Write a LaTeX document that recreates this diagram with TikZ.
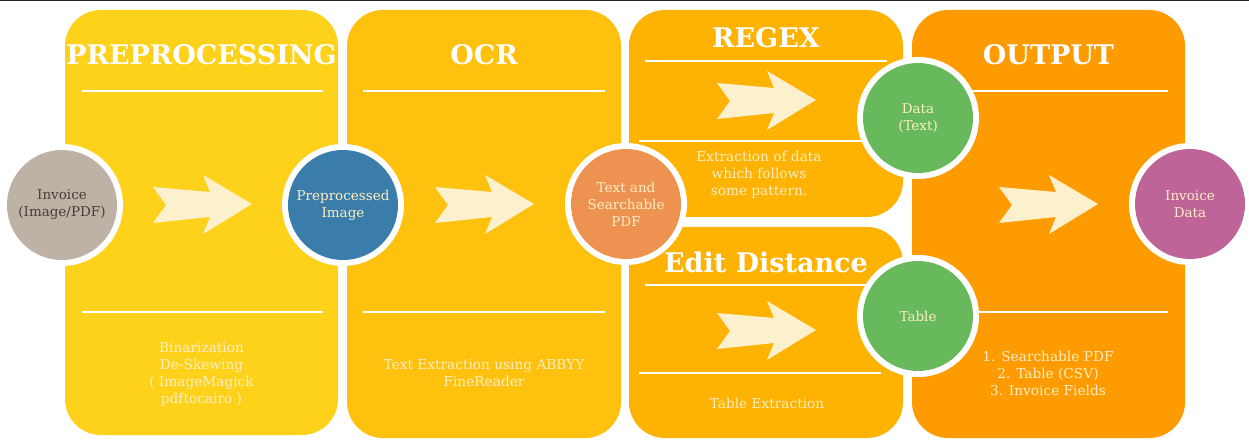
\documentclass[tikz,border=0pt]{standalone}
\usepackage{fontspec}
\setmainfont{DejaVu Serif}
\definecolor{pA}{RGB}{254,210,26}
\definecolor{pB}{RGB}{254,193,14}
\definecolor{pC}{RGB}{254,178,2}
\definecolor{pD}{RGB}{254,155,0}
\definecolor{cGray}{RGB}{190,177,165}
\definecolor{cBlue}{RGB}{58,125,170}
\definecolor{cOrange}{RGB}{238,146,82}
\definecolor{cGreen}{RGB}{104,185,92}
\definecolor{cPurple}{RGB}{190,100,152}
\definecolor{arrowcream}{RGB}{253,240,205}
\definecolor{txtcream}{RGB}{253,238,195}
\definecolor{darktxt}{RGB}{70,62,55}
\definecolor{topline}{RGB}{34,34,34}
\tikzset{
  panel/.style={fill=#1, draw=none, rounded corners=36pt},
  sepline/.style={draw=white, line width=2pt},
  ring/.style={circle, fill=white, minimum size=122pt, inner sep=0pt},
  bubble/.style={circle, fill=#1, minimum size=110pt, inner sep=0pt, align=center,
     text=txtcream, font=\fontsize{13.5}{17}\selectfont},
  title/.style={text=white, font=\bfseries\fontsize{27}{30}\selectfont, anchor=base, inner sep=0pt},
  body/.style={text=txtcream, align=center, font=\fontsize{13.7}{17}\selectfont, inner sep=0pt},
  chev/.pic={\fill[arrowcream] (-99,-17) -- (-86,1) -- (-99,19) -- (-42,13) -- (-49,30) -- (0,0) -- (-49,-29) -- (-42,-12) -- cycle;}
}
\begin{document}
\begin{tikzpicture}[x=1pt,y=-1pt]
\useasboundingbox (0,0) rectangle (1249,446);
\fill[white] (0,0) rectangle (1249,446);
\fill[topline] (0,0) rectangle (1249,1.5);
% panels
\fill[panel=pA] (65,10) rectangle (338,435);
\fill[panel=pB] (347,10) rectangle (621,438);
\fill[panel=pC] (629,10) rectangle (903,217);
\fill[panel=pC] (629,227) rectangle (903,438);
\fill[panel=pD] (912,10) rectangle (1185,438);
% separator lines
\draw[sepline] (82,91) -- (323,91);
\draw[sepline] (82,312) -- (323,312);
\draw[sepline] (363,91) -- (605,91);
\draw[sepline] (363,312) -- (605,312);
\draw[sepline] (645,61) -- (887,61);
\draw[sepline] (639,141) -- (881,141);
\draw[sepline] (645,285) -- (887,285);
\draw[sepline] (639,373) -- (881,373);
\draw[sepline] (930,91) -- (1168,91);
\draw[sepline] (930,312) -- (1168,312);
% titles
\node[title] (tpre) at (201.5,65) {PREPROCESSING};
\node[title] (tocr) at (484,65) {OCR};
\node[title] (treg) at (766,48) {REGEX};
\node[title] (tedit) at (766,272) {Edit Distance};
\node[title] (tout) at (1048.5,65) {OUTPUT};
% arrows
\pic at (252,204) {chev};
\pic at (534,204) {chev};
\pic at (816,100) {chev};
\pic at (816,330) {chev};
\pic at (1098,204) {chev};
% body texts
\node[body] (bpre) at (201.5,374) {Binarization\\De-Skewing\\( ImageMagick\\pdftocairo )};
\node[body] (bocr) at (484,373.5) {Text Extraction using ABBYY\\FineReader};
\node[body] (breg) at (759,175) {Extraction of data\\which follows\\some pattern.};
\node[body] (bedit) at (767,403) {Table Extraction};
\node[body] (bout) at (1048,373) {1. Searchable PDF\\2. Table (CSV)\\3. Invoice Fields};
% circles
\node[ring] (rinv) at (62,205) {};
\node[bubble=cGray, text=darktxt] (inv) at (62,205) {Invoice\\(Image/PDF)};
\node[ring] (rpre) at (343,205) {};
\node[bubble=cBlue] (pre) at (343,205) {Preprocessed\\Image};
\node[ring] (rtsp) at (626,204) {};
\node[bubble=cOrange] (tsp) at (626,204) {Text and\\Searchable\\PDF};
\node[ring] (rdat) at (918,118) {};
\node[bubble=cGreen] (dat) at (918,118) {Data\\(Text)};
\node[ring] (rtab) at (918,316) {};
\node[bubble=cGreen] (tab) at (918,316) {Table};
\node[ring] (rind) at (1190,204) {};
\node[bubble=cPurple] (ind) at (1190,204) {Invoice\\Data};
\end{tikzpicture}
\end{document}
